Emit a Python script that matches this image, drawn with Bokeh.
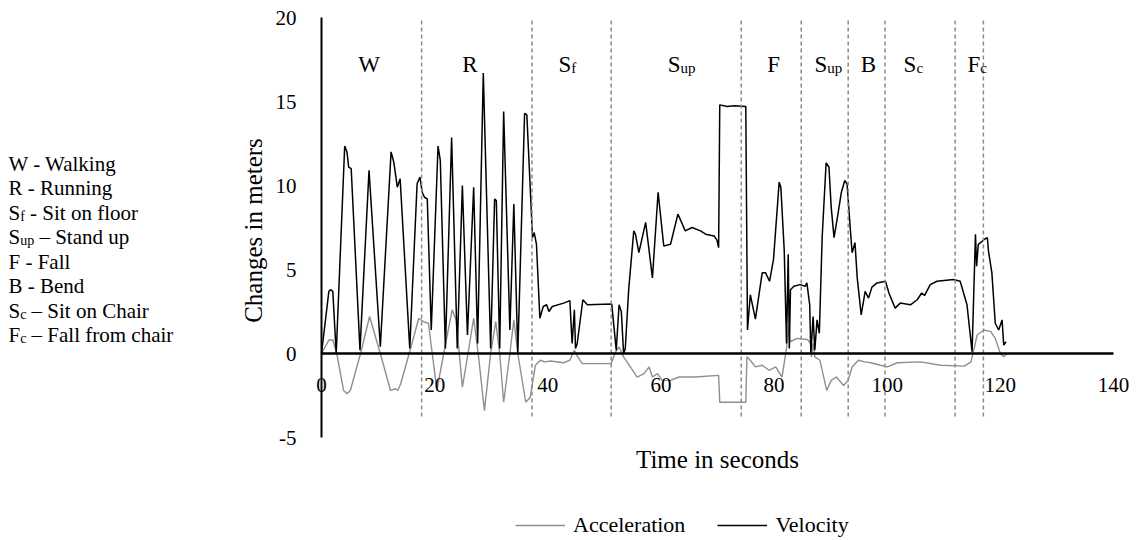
import math
from bokeh.plotting import figure
from bokeh.models import Label, Legend, LegendItem, FixedTicker, Range1d, ColumnDataSource
from bokeh.embed import file_html
from bokeh.resources import INLINE

# ---------------- data ----------------
vel_t = [0.0, 1.3, 1.6, 2.0, 2.6, 4.1, 4.5, 4.8, 5.25, 6.8, 8.4, 10.4, 12.3, 12.8, 13.4, 13.9,
         15.6, 16.9, 17.4, 17.8, 18.2, 18.7, 19.4, 20.6, 21.0, 21.9, 23.0, 24.0, 24.9, 25.8,
         26.9, 27.6, 28.6, 29.9, 30.6, 30.9, 31.5, 32.2, 33.3, 34.0, 34.7, 35.9, 36.3, 37.3,
         37.6, 38.0, 38.6, 39.2, 39.8, 40.2, 40.8, 42.8, 43.9, 44.3, 44.7, 44.9, 45.2, 46.2,
         47.0, 51.3, 52.1, 52.6, 53.0, 53.4, 53.7, 54.3, 55.2, 55.5, 56.1, 57.3, 58.5, 59.5,
         60.5, 61.7, 63.0, 64.3, 65.5, 67.0, 67.9, 69.4, 69.9, 70.2, 70.4, 71.7, 73.0, 75.0,
         75.3, 75.8, 76.7, 77.9, 78.5, 79.2, 79.9, 80.9, 81.2, 81.8, 82.2, 82.5, 82.7, 82.9,
         83.5, 84.6, 85.5, 85.8, 86.3, 86.5, 86.9, 87.2, 87.6, 88.0, 88.5, 89.2, 89.7, 90.1,
         90.6, 91.2, 91.9, 92.5, 92.9, 93.5, 93.8, 94.3, 94.7, 95.4, 96.1, 96.7, 97.3, 98.2,
         99.7, 100.3, 101.4, 102.3, 104.1, 105.3, 106.1, 106.6, 107.6, 108.8, 111.7, 112.9,
         114.1, 115.0, 115.6, 115.8, 116.1, 116.5, 117.2, 117.7, 117.9, 118.5, 119.1, 119.7,
         120.3, 120.6, 121.0]
vel_v = [0.0, 3.7, 3.8, 3.7, 0.0, 12.35, 12.0, 11.1, 11.0, 0.2, 10.9, 0.4, 12.0, 11.35, 9.9, 10.4,
         0.3, 10.1, 10.5, 9.6, 9.3, 9.2, 1.4, 12.35, 11.5, 0.3, 12.85, 0.3, 10.0, 1.1,
         9.9, 0.6, 16.7, 0.3, 9.2, 9.1, 0.3, 14.4, 1.4, 8.9, 0.0, 14.3, 14.2, 6.9,
         7.2, 6.5, 2.1, 2.8, 2.9, 2.5, 2.8, 3.0, 3.15, 0.6, 2.6, 0.3, 0.6, 3.2,
         2.9, 2.95, 0.2, 2.9, 2.5, 0.0, 0.3, 3.8, 7.3, 7.1, 6.0, 7.8, 4.5, 9.6,
         6.4, 6.5, 8.3, 7.3, 7.5, 7.3, 7.1, 7.0, 6.75, 6.3, 14.8, 14.7, 14.75, 14.7,
         1.4, 3.5, 2.05, 4.8, 4.8, 4.3, 5.6, 10.2, 9.9, 6.1, 0.6, 5.9, 0.3, 3.8,
         4.0, 4.1, 4.0, 4.2, 2.9, 0.0, 2.2, 0.2, 2.0, 1.2, 6.9, 11.35, 11.1, 8.7,
         6.9, 8.1, 9.6, 10.3, 10.1, 7.3, 6.0, 6.6, 4.5, 2.3, 3.7, 3.3, 3.95, 4.2,
         4.3, 3.6, 2.7, 3.0, 2.9, 3.2, 3.6, 3.45, 4.1, 4.3, 4.4, 4.3,
         2.9, 0.1, 7.1, 5.2, 6.5, 6.6, 6.8, 6.9, 6.1, 4.8, 1.8, 1.4,
         2.0, 0.5, 0.7]

acc_t = [0.0, 1.3, 2.0, 2.7, 3.9, 4.5, 5.1, 6.9, 8.5, 10.4, 12.2, 13.1, 13.5, 14.0, 15.5, 17.2,
         18.0, 18.9, 20.4, 21.6, 23.1, 23.8, 24.9, 25.9, 26.9, 27.7, 28.8, 29.9, 30.8, 31.5,
         32.2, 33.3, 34.0, 34.7, 36.1, 36.9, 37.8, 38.7, 39.5, 40.5, 42.8, 43.9, 44.7, 45.1,
         46.1, 51.2, 52.0, 52.6, 53.4, 54.6, 55.8, 57.0, 57.9, 58.5, 59.4, 60.2, 61.7, 63.2,
         66.0, 70.2, 70.4, 75.0, 75.2, 75.8, 76.7, 77.9, 79.1, 80.3, 81.4, 82.2, 82.6, 82.8,
         84.1, 85.9, 86.5, 86.6, 86.9, 87.2, 88.1, 89.3, 90.1, 91.0, 92.3, 93.1, 93.8, 94.9,
         96.0, 97.1, 98.8, 100.0, 101.8, 105.9, 109.4, 113.6, 114.8, 115.3, 115.9, 117.1,
         118.3, 119.1, 120.0, 120.6, 121.2]
acc_a = [0.0, 0.8, 0.8, 0.0, -2.2, -2.4, -2.2, 0.0, 2.2, 0.0, -2.2, -2.1, -2.2, -1.8, 0.0, 2.1,
         1.9, 1.8, -2.2, 0.0, 2.6, 2.0, -2.0, 0.0, 2.1, 0.0, -3.4, 0.0, 1.9, 0.0,
         -2.9, 0.0, 2.0, 0.0, -2.9, -2.6, -0.7, -0.4, -0.5, -0.45, -0.55, -0.4, 0.2, -0.1,
         -0.6, -0.6, 0.1, 0.4, -0.2, -0.8, -1.4, -1.2, -0.8, -1.4, -1.2, -1.6, -1.6, -1.4,
         -1.4, -1.3, -2.9, -2.9, -0.2, -0.4, -0.8, -0.7, -1.0, -0.8, -1.4, 0.3, 1.6, 0.7,
         0.9, 0.83, 0.6, -0.2, 0.6, -0.2, -0.4, -2.2, -1.6, -1.4, -1.9, -1.6, -0.8, -0.4,
         -0.5, -0.55, -0.7, -0.8, -0.55, -0.5, -0.7, -0.75, -0.5, 0.2, 1.1, 1.4,
         1.3, 0.9, 0.0, -0.2, 0.0]

boundaries = [17.7, 37.2, 51.2, 74.2, 84.8, 93.1, 99.6, 112.0, 117.0]
section_main = ["W", "R", "S", "S", "F", "S", "B", "S", "F"]
section_sub = ["", "", "f", "up", "", "up", "", "c", "c"]
section_label_x = [6.5, 24.9, 41.9, 61.2, 78.8, 87.15, 95.3, 102.9, 114.2]

key_main = ["W - Walking", "R - Running", "S", "S", "F - Fall", "B - Bend", "S", "F"]
key_sub = ["", "", "f", "up", "", "", "c", "c"]
key_rest = ["", "", "- Sit on floor", "\u2013 Stand up", "", "", "\u2013 Sit on Chair", "\u2013 Fall from chair"]

x_ticks = [0, 20, 40, 60, 80, 100, 120, 140]
y_ticks = [-5, 0, 5, 10, 15, 20]

FONT = "Liberation Serif"
W, H = 1136, 540

# plot-area geometry in pixels; helpers convert pixel spots to data units
FL, FR, FT, FB = 321.0, 1113.0, 17.0, 437.0
def tx(px):
    return (px - FL) * 140.0 / (FR - FL)
def vy(py):
    return (FB - py) * 25.0 / (FB - FT) - 5.0

p = figure(width=W, height=H, x_range=Range1d(tx(0), tx(W)), y_range=Range1d(vy(H), vy(0)),
           output_backend="svg", toolbar_location=None,
           min_border=0, min_border_left=0, min_border_right=0, min_border_top=0, min_border_bottom=0)
p.xgrid.visible = False
p.ygrid.visible = False
p.outline_line_color = None
p.background_fill_color = "white"
p.border_fill_color = "white"

# curves
acc_r = p.line(acc_t, acc_a, line_color="#8f8f8f", line_width=1.4)
vel_r = p.line(vel_t, vel_v, line_color="black", line_width=1.5)

# section boundaries
bsrc = ColumnDataSource(dict(t=boundaries))
p.segment(x0="t", y0=-3.75, x1="t", y1=20, source=bsrc,
          line_color="#8a8a8a", line_width=1.5, line_dash="4 3")

# axes (crossing at the origin)
xa = p.xaxis[0]
xa.fixed_location = 0
xa.bounds = (0, 140)
xa.ticker = FixedTicker(ticks=x_ticks)
xa.axis_line_color = "black"
xa.axis_line_width = 2.5
xa.major_tick_line_color = None
xa.minor_tick_line_color = None
xa.major_label_standoff = 18
xa.major_label_text_font = FONT
xa.major_label_text_font_size = "21px"
xa.major_label_text_color = "black"

ya = p.yaxis[0]
ya.fixed_location = 0
ya.bounds = (-5, 20)
ya.ticker = FixedTicker(ticks=y_ticks)
ya.major_label_overrides = {-5: "-5"}
ya.axis_line_color = "black"
ya.axis_line_width = 2
ya.major_tick_line_color = None
ya.minor_tick_line_color = None
ya.major_label_standoff = 19
ya.major_label_text_font = FONT
ya.major_label_text_font_size = "21px"
ya.major_label_text_color = "black"

# axis titles
p.add_layout(Label(x=tx(253), y=vy(230), text="Changes in meters", angle=math.pi / 2,
                   text_align="center", text_baseline="middle", text_font=FONT,
                   text_font_size="25px", text_color="black"))
p.add_layout(Label(x=tx(717), y=vy(459), text="Time in seconds", text_align="center",
                   text_baseline="middle", text_font=FONT, text_font_size="25px",
                   text_color="black"))

# section labels
for xm, m, s in zip(section_label_x, section_main, section_sub):
    p.add_layout(Label(x=xm, y=vy(63.5), text=m, text_align="left", text_baseline="alphabetic",
                       text_font=FONT, text_font_size="23px", text_color="black"))
    if s:
        p.add_layout(Label(x=xm, y=vy(67.0), x_offset=12.8, text=s, text_align="left",
                           text_baseline="alphabetic", text_font=FONT, text_font_size="15px",
                           text_color="black"))

# key on the left
sub_w = {"f": 4.7, "up": 14.0, "c": 6.2}
for k, (m, s, r) in enumerate(zip(key_main, key_sub, key_rest)):
    base = 163.0 + 24.5 * k
    p.add_layout(Label(x=tx(8), y=vy(base), text=m, text_align="left", text_baseline="alphabetic",
                       text_font=FONT, text_font_size="21px", text_color="black"))
    if s:
        p.add_layout(Label(x=tx(8), y=vy(base + 3.5), x_offset=11.7, text=s, text_align="left",
                           text_baseline="alphabetic", text_font=FONT, text_font_size="14px",
                           text_color="black"))
        p.add_layout(Label(x=tx(8), y=vy(base), x_offset=11.7 + sub_w[s] + 5.2, text=r,
                           text_align="left", text_baseline="alphabetic", text_font=FONT,
                           text_font_size="21px", text_color="black"))

legend = Legend(items=[LegendItem(label="Acceleration", renderers=[acc_r]),
                       LegendItem(label="Velocity", renderers=[vel_r])],
                orientation="horizontal", location=(515, 2),
                glyph_width=50, glyph_height=22, label_height=22, label_standoff=8, spacing=32,
                padding=0, margin=0, border_line_color=None, background_fill_alpha=0,
                label_text_font=FONT, label_text_font_size="22px", label_text_color="black")
p.add_layout(legend)

open("out.html", "w").write(file_html(p, INLINE))
